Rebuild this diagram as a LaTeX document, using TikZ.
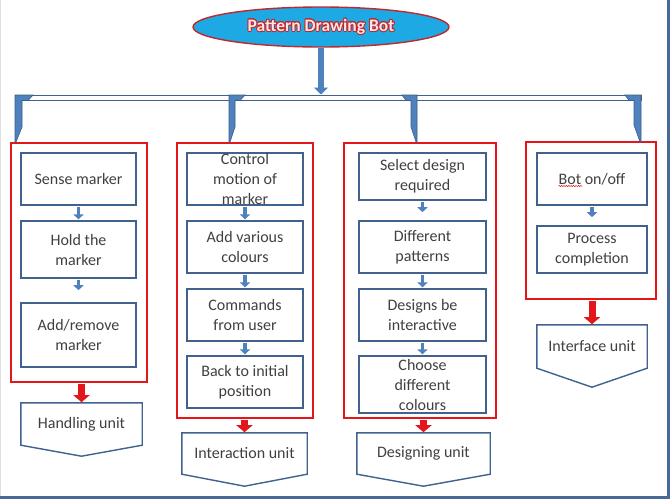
\documentclass[tikz,border=0pt]{standalone}
\usepackage{fontspec}
\setmainfont{Carlito}
\usepackage[copies]{contour}
\contourlength{0.8pt}
\usetikzlibrary{shapes.geometric,arrows.meta,calc,decorations.pathmorphing}
\definecolor{skyfill}{HTML}{1DA9E4}
\definecolor{titlered}{HTML}{C0282D}
\definecolor{boxblue}{HTML}{41618E}
\definecolor{arrowblue}{HTML}{4F81BD}
\definecolor{arrowedge}{HTML}{385D8A}
\definecolor{groupred}{HTML}{E3161B}
\definecolor{txt}{HTML}{404040}
\definecolor{framecol}{HTML}{4A6A96}
\tikzset{
  procbox/.style={draw=boxblue, line width=1.6pt, fill=white, inner sep=0pt},
  boxtext/.style={text=txt, align=center, inner sep=0pt,
    font=\fontsize{16}{20}\selectfont},
  groupbox/.style={draw=groupred, line width=1.8pt, inner sep=0pt},
  unitbox/.style={inner sep=0pt, text=txt, font=\fontsize{16}{20}\selectfont},
  unitline/.style={draw=boxblue, line width=1.4pt, fill=white, line join=miter},
  smallarrow/.style={draw=arrowblue, line width=3.6pt,
    -{Triangle[length=5pt,width=10pt]}, shorten <=0.8pt, shorten >=0.8pt},
  redarrow/.style={draw=groupred, line width=7pt,
    -{Triangle[length=7pt,width=16pt]}, shorten <=1pt, shorten >=0.6pt},
  bracket/.style={fill=arrowblue, draw=arrowedge, line width=0.6pt, line join=miter},
}
\begin{document}
\begin{tikzpicture}[x=1pt,y=-1pt]
\useasboundingbox (0,0) rectangle (670,499);
\fill[white] (0,0) rectangle (670,499);

% outer frame
\draw[black!12, line width=0.8pt] (0.4,0) -- (0.4,499);
\draw[framecol, line width=3pt] (668.5,0) -- (668.5,497.5) -- (0,497.5);

% title
\node[ellipse, draw=titlered, line width=1.4pt, fill=skyfill,
      minimum width=256pt, minimum height=40pt] (title) at (321,27) {};
\node[font=\fontsize{17.5}{20}\selectfont\bfseries] at (title.center)
  {\contour{titlered}{\textcolor{white!90!red}{Pattern Drawing Bot}}};

% distribution bar
\node[draw=boxblue, line width=1pt, fill=white, inner sep=0pt,
      minimum width=626pt, minimum height=5pt] (bar) at (328,97.5) {};
\draw[draw=arrowblue, line width=6.5pt, -{Triangle[length=7pt,width=14pt]}]
  (title.south) -- (title.south |- bar.north);

% group containers
\node[groupbox, minimum width=136pt, minimum height=239pt] (g1) at (79,262.5) {};
\node[groupbox, minimum width=136pt, minimum height=275pt] (g2) at (245,280.5) {};
\node[groupbox, minimum width=152pt, minimum height=275pt] (g3) at (420,280.5) {};
\node[groupbox, minimum width=130pt, minimum height=157pt] (g4) at (591,220.5) {};

% bracket connectors from the bar to each group
\draw[bracket] (15,95) -- (33,95) -- (28,100.5) -- (22,100.5) -- (22,127)
  -- (16,142) -- (15,142) -- cycle;
\draw[bracket] (229,95) -- (245,95) -- (240,100.5) -- (235,100.5) -- (235,127)
  -- (230,142) -- (229,142) -- cycle;
\draw[bracket] (402,95) -- (417,95) -- (417,142) -- (416,142) -- (411,127)
  -- (411,100.5) -- (406,100.5) -- cycle;
\draw[bracket] (625,95) -- (641,95) -- (641,142) -- (640,142) -- (634,125)
  -- (634,100.5) -- (629,100.5) -- cycle;

% column 1
\node[procbox, minimum width=115pt, minimum height=52pt] (a1) at (78.5,179) {};
\node[boxtext] at (a1.center) {Sense marker};
\node[procbox, minimum width=115pt, minimum height=57pt] (a2) at (78.5,249.5) {};
\node[boxtext] at (a2.center) {Hold the\\marker};
\node[procbox, minimum width=115pt, minimum height=64pt] (a3) at (78.5,335) {};
\node[boxtext] at (a3.center) {Add/remove\\marker};
\draw[smallarrow] (a1.south) -- (a2.north);
\draw[smallarrow, shorten >=12pt] (a2.south) -- (a3.north);

% column 2
\node[procbox, minimum width=116pt, minimum height=52pt] (b1) at (245,179) {};
\node[boxtext] at (b1.center) {Control\\motion of\\marker};
\node[procbox, minimum width=116pt, minimum height=52pt] (b2) at (245,247) {};
\node[boxtext] at (b2.center) {Add various\\colours};
\node[procbox, minimum width=116pt, minimum height=52pt] (b3) at (245,315) {};
\node[boxtext] at (b3.center) {Commands\\from user};
\node[procbox, minimum width=116pt, minimum height=52pt] (b4) at (245,382) {};
\node[boxtext] at (b4.center) {Back to initial\\position};
\draw[smallarrow] (b1.south) -- (b2.north);
\draw[smallarrow] (b2.south) -- (b3.north);
\draw[smallarrow] (b3.south) -- (b4.north);

% column 3
\node[procbox, minimum width=127pt, minimum height=47pt] (c1) at (422.5,176.5) {};
\node[boxtext] at (c1.center) {Select design\\required};
\node[procbox, minimum width=127pt, minimum height=52pt] (c2) at (422.5,247) {};
\node[boxtext] at (c2.center) {Different\\patterns};
\node[procbox, minimum width=127pt, minimum height=52pt] (c3) at (422.5,315) {};
\node[boxtext] at (c3.center) {Designs be\\interactive};
\node[procbox, minimum width=127pt, minimum height=57pt] (c4) at (422.5,384.5) {};
\node[boxtext] at (c4.center) {Choose\\different\\colours};
\draw[smallarrow, shorten >=8pt] (c1.south) -- (c2.north);
\draw[smallarrow] (c2.south) -- (c3.north);
\draw[smallarrow] (c3.south) -- (c4.north);

% column 4
\node[procbox, minimum width=110pt, minimum height=52pt] (d1) at (592,179) {};
\node[boxtext] (d1t) at (d1.center) {Bot on/off};
\node[procbox, minimum width=110pt, minimum height=47pt] (d2) at (592,249.5) {};
\node[boxtext] at (d2.center) {Process\\completion};
\draw[smallarrow, shorten >=8pt] (d1.south) -- (d2.north);
\draw[groupred, line width=0.5pt, decorate,
      decoration={snake, amplitude=0.6pt, segment length=2.4pt}]
  ($(d1t.west)+(0,7)$) -- ++(24,0);

% unit boxes
\node[unitbox, minimum width=121pt, minimum height=42pt] (u1) at (81.5,424) {};
\node[unitbox, minimum width=125pt, minimum height=41pt] (u2) at (244.5,453.5) {};
\node[unitbox, minimum width=133pt, minimum height=41pt] (u3) at (423.5,453.5) {};
\node[unitbox, minimum width=110pt, minimum height=43pt] (u4) at (592,346.5) {};
\draw[unitline] (u1.south west) -- (u1.north west) -- (u1.north east) -- (u1.south east)
  -- ($(u1.south)+(0,11)$) -- cycle;
\draw[unitline] (u2.south west) -- (u2.north west) -- (u2.north east) -- (u2.south east)
  -- ($(u2.south)+(0,12)$) -- cycle;
\draw[unitline] (u3.south west) -- (u3.north west) -- (u3.north east) -- (u3.south east)
  -- ($(u3.south)+(0,12)$) -- cycle;
\draw[unitline] (u4.south west) -- (u4.north west) -- (u4.north east) -- (u4.south east)
  -- ($(u4.south)+(0,19)$) -- cycle;
\node[unitbox] at (u1.center) {Handling unit};
\node[unitbox] at (u2.center) {Interaction unit};
\node[unitbox] at (u3.center) {Designing unit};
\node[unitbox] at (u4.center) {Interface unit};

% group-to-unit arrows
\draw[redarrow] (g1.south -| u1.north) -- (u1.north);
\draw[redarrow] (g2.south -| u2.north) -- (u2.north);
\draw[redarrow] (g3.south -| u3.north) -- (u3.north);
\draw[redarrow] (g4.south -| u4.north) -- (u4.north);
\end{tikzpicture}
\end{document}
